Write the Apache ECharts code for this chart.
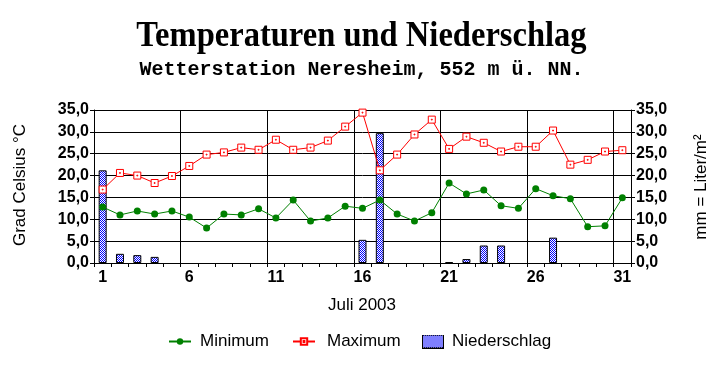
<!DOCTYPE html>
<html>
<head>
<meta charset="utf-8">
<script src="https://cdn.jsdelivr.net/npm/echarts@6/dist/echarts.min.js"></script>
<style>
html,body{margin:0;padding:0;background:#fff;}
#c{width:723px;height:368px;}
</style>
</head>
<body>
<div id="c"></div>
<script>
var days = ['1','2','3','4','5','6','7','8','9','10','11','12','13','14','15','16','17','18','19','20','21','22','23','24','25','26','27','28','29','30','31'];
var tempMin = [12.8,11.0,11.9,11.2,11.9,10.5,8.0,11.2,11.0,12.4,10.3,14.4,9.6,10.3,13.0,12.5,14.4,11.2,9.6,11.5,18.3,15.8,16.7,13.1,12.5,17.0,15.4,14.7,8.3,8.5,14.9];
var tempMax = [16.8,20.6,20.0,18.3,19.9,22.2,24.8,25.3,26.4,25.9,28.2,25.9,26.4,28.0,31.2,34.4,21.2,24.8,29.4,32.8,26.1,28.9,27.5,25.5,26.6,26.6,30.3,22.5,23.6,25.5,25.8];
var rain = [21.2,2.1,1.8,1.4,null,null,null,null,null,null,null,null,null,null,null,5.3,29.7,null,null,null,0.2,0.9,4.0,4.0,null,null,5.8,null,null,null,null];
var yTicks = {min:0, max:35, interval:5};
var texts = {
  title: 'Temperaturen und Niederschlag',
  subtitle: 'Wetterstation Neresheim, 552 m ü. NN.',
  xName: 'Juli 2003',
  yLeft: 'Grad Celsius °C',
  yRight: 'mm = Liter/m²'
};

var pc = document.createElement('canvas');
pc.width = 2; pc.height = 2;
var pctx = pc.getContext('2d');
pctx.fillStyle = '#ffffff'; pctx.fillRect(0,0,2,2);
pctx.fillStyle = '#0000ff'; pctx.fillRect(0,0,1,1); pctx.fillRect(1,1,1,1);
var pattern = {image: pc, repeat: 'repeat'};

// legend swatch for the precipitation bars (pattern + black frame)
var lc = document.createElement('canvas');
lc.width = 22; lc.height = 14;
var lctx = lc.getContext('2d');
lctx.fillStyle = '#000'; lctx.fillRect(0,0,22,14);
lctx.fillStyle = '#fff'; lctx.fillRect(1,1,20,12);
lctx.fillStyle = '#0000ff';
for (var yy = 1; yy < 13; yy++) for (var xx = 1; xx < 21; xx++) if ((xx + yy) % 2 === 0) lctx.fillRect(xx, yy, 1, 1);
var swatch = 'image://' + lc.toDataURL();

var FONT = 'Liberation Sans, Arial, sans-serif';
var fmt = function(v){ return v.toFixed(1).replace('.', ','); };

var chart = echarts.init(document.getElementById('c'), null, {renderer:'canvas'});
var yAxisBase = function(pos){
  return {
    type:'value', position: pos, min: yTicks.min, max: yTicks.max, interval: yTicks.interval,
    axisLine:{show:true, lineStyle:{color:'#000', width:1}},
    axisTick:{show:true, length:4, lineStyle:{color:'#000'}},
    axisLabel:{margin:5, formatter: fmt, color:'#000', fontSize:16, fontWeight:'bold', fontFamily:FONT},
    splitLine:{show: pos==='left', lineStyle:{color:'#000', width:1}}
  };
};
var legendText = {fontSize:17, fontFamily:FONT, color:'#000'};
chart.setOption({
  animation:false,
  backgroundColor:'#fff',
  grid:{left:94, right:92, top:110, bottom:105, containLabel:false},
  legend:[
    {left:168, top:333, padding:0, itemWidth:22, itemHeight:8, data:['Minimum'],
     textStyle:Object.assign({padding:[0,0,0,4]}, legendText)},
    {left:292, top:333, padding:0, itemWidth:22, itemHeight:8, data:['Maximum'],
     textStyle:Object.assign({padding:[0,0,0,7]}, legendText)},
    {left:422, top:333, padding:0, itemWidth:22, itemHeight:14,
     data:[{name:'Niederschlag', icon: swatch}],
     textStyle:Object.assign({padding:[0,0,0,3]}, legendText)}
  ],
  xAxis:{
    type:'category', data: days, boundaryGap:true,
    axisLine:{show:true, lineStyle:{color:'#000', width:1}},
    axisTick:{show:true, interval:0, length:4, lineStyle:{color:'#000'}},
    axisLabel:{interval:4, margin:7, color:'#000', fontSize:16, fontWeight:'bold', fontFamily:FONT},
    splitLine:{show:true, interval:4, lineStyle:{color:'#000', width:1}}
  },
  yAxis:[yAxisBase('left'), yAxisBase('right')],
  graphic:[
    {type:'text', x:361.5, y:37, scaleX:0.93, style:{text:texts.title, font:'bold 35px "Liberation Serif", "Times New Roman", serif', fill:'#000', align:'center', verticalAlign:'middle'}},
    {type:'text', x:361.5, y:70, style:{text:texts.subtitle, font:'bold 20px "Liberation Mono", "Courier New", monospace', fill:'#000', align:'center', verticalAlign:'middle'}},
    {type:'text', x:362, y:305, style:{text:texts.xName, font:'17px ' + FONT, fill:'#000', align:'center', verticalAlign:'middle'}},
    {type:'text', x:20, y:185, rotation:Math.PI/2, style:{text:texts.yLeft, font:'17px ' + FONT, fill:'#000', align:'center', verticalAlign:'middle'}},
    {type:'text', x:701, y:187, rotation:Math.PI/2, style:{text:texts.yRight, font:'17px ' + FONT, fill:'#000', align:'center', verticalAlign:'middle'}}
  ],
  series:[
    {name:'Niederschlag', type:'bar', yAxisIndex:1, data: rain, barWidth:8,
     itemStyle:{color: pattern, borderColor:'#000', borderWidth:1}},
    {name:'Minimum', type:'line', yAxisIndex:0, data: tempMin, symbol:'circle', symbolSize:7,
     lineStyle:{color:'#008000', width:1}, itemStyle:{color:'#008000', borderWidth:0}},
    {name:'Maximum', type:'line', yAxisIndex:0, data: tempMax,
     symbol:'path://M0,0H8V8H0Z M3.5,3.5H4.5V4.5H3.5Z', symbolSize:7,
     lineStyle:{color:'#ff0000', width:1}, itemStyle:{color:'#ffffff', borderColor:'#ff0000', borderWidth:1}}
  ]
});
</script>
</body>
</html>
